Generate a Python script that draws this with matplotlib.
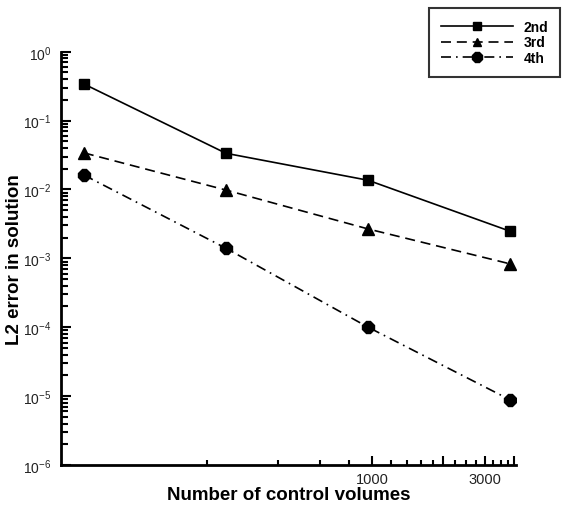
import matplotlib
matplotlib.use('Agg')
import matplotlib.pyplot as plt
from matplotlib.ticker import FixedLocator, FixedFormatter, NullFormatter, LogLocator, LogFormatterSciNotation

plt.rcParams['font.family'] = ['Liberation Sans', 'DejaVu Sans']
plt.rcParams['mathtext.fontset'] = 'custom'
plt.rcParams['mathtext.rm'] = 'Liberation Sans'
plt.rcParams['mathtext.it'] = 'Liberation Sans:italic'
plt.rcParams['mathtext.bf'] = 'Liberation Sans:bold'

# ---- data ----
control_volumes = [60, 240, 960, 3840]
err_2nd = [0.34, 0.0335, 0.0136, 0.00247]
err_3rd = [0.034, 0.0098, 0.00267, 0.00083]
err_4th = [0.0162, 0.0014, 0.0001, 8.8e-6]
series_labels = ['2nd', '3rd', '4th']
x_major_ticks = [1000, 2000, 3000, 4000]
x_major_labels = ['1000', '', '3000', '']
x_minor_ticks = [200, 400, 600, 800, 1200, 1400, 1600, 1800,
                 2250, 2500, 2750, 3250, 3500, 3750]
x_label = 'Number of control volumes'
y_label = 'L2 error in solution'

fig = plt.figure(figsize=(5.65, 5.10), dpi=100)
ax = fig.add_axes([61/565, 1-466/510, (516-61)/565, (466-52.7)/510])

ax.plot(control_volumes, err_2nd, color='black', linestyle='-', linewidth=1.2,
        marker='s', markersize=7, label=series_labels[0])
ax.plot(control_volumes, err_3rd, color='black', linestyle=(0, (6, 3.5)), linewidth=1.2,
        marker='^', markersize=8, label=series_labels[1])
ax.plot(control_volumes, err_4th, color='black', linestyle=(0, (6, 3, 1, 3)), linewidth=1.2,
        marker='8', markersize=9, label=series_labels[2])

ax.set_xscale('log')
ax.set_yscale('log')
ax.set_xlim(48, 4060)
ax.set_ylim(1e-6, 1e0)

for s in ['top', 'right']:
    ax.spines[s].set_visible(False)
for s in ['left', 'bottom']:
    ax.spines[s].set_linewidth(2.0)

ax.xaxis.set_major_locator(FixedLocator(x_major_ticks))
ax.xaxis.set_major_formatter(FixedFormatter(x_major_labels))
ax.xaxis.set_minor_locator(FixedLocator(x_minor_ticks))
ax.xaxis.set_minor_formatter(NullFormatter())

ax.yaxis.set_major_locator(LogLocator(base=10, numticks=10))
ax.yaxis.set_major_formatter(LogFormatterSciNotation())
ax.yaxis.set_minor_locator(LogLocator(base=10, subs=range(2, 10), numticks=20))
ax.yaxis.set_minor_formatter(NullFormatter())

ax.tick_params(axis='y', which='major', direction='in', length=7.5, width=1.5,
               labelsize=10, pad=7, colors='black', labelcolor='#222222')
ax.tick_params(axis='y', which='minor', direction='in', length=5, width=1.5)
ax.tick_params(axis='x', which='major', direction='in', length=6.5, width=1.5,
               labelsize=10.5, pad=5, labelcolor='#222222')
ax.tick_params(axis='x', which='minor', direction='in', length=3.5, width=1.5)

ax.set_xlabel(x_label, fontsize=13.5, fontweight='bold')
ax.set_ylabel(y_label, fontsize=13.5, fontweight='bold')
ax.xaxis.set_label_coords(0.5, -0.050)
ax.yaxis.set_label_coords(-0.084, 0.5)

leg = fig.legend(loc='upper right', bbox_to_anchor=(560/565, 1-9/510), frameon=True,
                 fancybox=False, shadow=False, borderaxespad=0,
                 prop={'weight': 'bold', 'size': 10}, handlelength=5.2,
                 handletextpad=0.75, labelspacing=0.12, borderpad=0.85,
                 markerscale=0.8)
leg.get_frame().set_edgecolor('black')
leg.get_frame().set_linewidth(1.5)

fig.savefig('out.png', dpi=100)
